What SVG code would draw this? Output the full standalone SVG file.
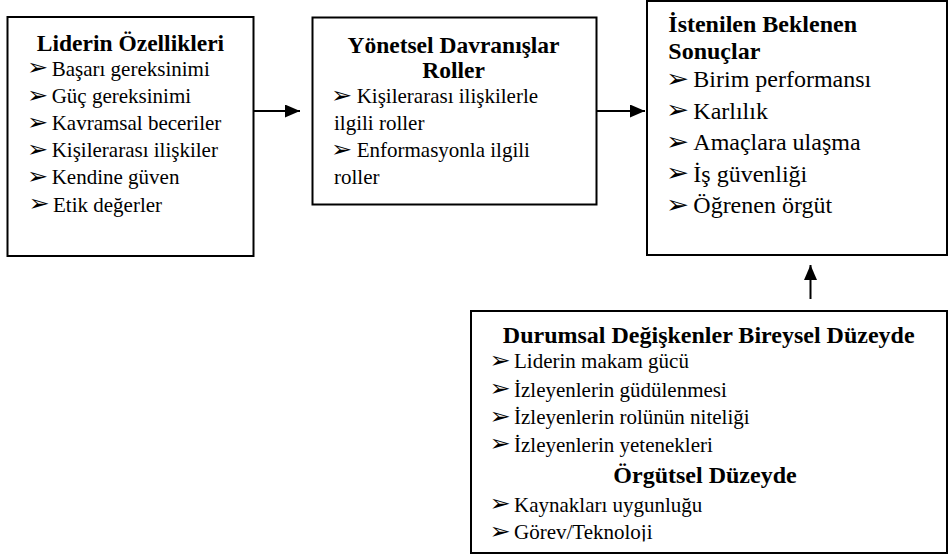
<svg xmlns="http://www.w3.org/2000/svg" width="951" height="558" viewBox="0 0 951 558">
<style>
.box{fill:#fff;stroke:#000;stroke-width:2}
.t{fill:#000}
.h{font-weight:bold}
.s21{font-size:21px}
.s24{font-size:24px}
.b{fill:#000;font-family:"DejaVu Sans",sans-serif;font-size:23px}
.b24{font-size:25px}
.conn{stroke:#000;stroke-width:2;fill:none}
</style>
<defs>
<marker id="ah" viewBox="0 0 15 13" refX="15" refY="6.5" markerWidth="15" markerHeight="13" markerUnits="userSpaceOnUse" orient="auto">
<path d="M0,0 L15,6.5 L0,13 z" fill="#000"/>
</marker>
<clipPath id="clip4"><rect x="460" y="300" width="491" height="241.5"/></clipPath>
</defs>
<rect width="951" height="558" fill="#fff"/>
<g font-family="'Liberation Serif', 'Times New Roman', serif">
<g id="node-lider">
<rect class="box" x="7.5" y="17" width="246" height="239"/>
<text class="t h" x="130.5" y="50.5" font-size="23.5" text-anchor="middle">Liderin Özellikleri</text>
<text class="b" transform="translate(27,75) scale(1.1,1)">➢</text>
<text class="b" transform="translate(27,102.5) scale(1.1,1)">➢</text>
<text class="b" transform="translate(27,129.5) scale(1.1,1)">➢</text>
<text class="b" transform="translate(27,156.5) scale(1.1,1)">➢</text>
<text class="b" transform="translate(27,183.5) scale(1.1,1)">➢</text>
<text class="b" transform="translate(28.5,211) scale(1.1,1)">➢</text>
<g class="t s21">
<text x="51.7" y="75.5">Başarı gereksinimi</text>
<text x="51.7" y="103">Güç gereksinimi</text>
<text x="51.7" y="130">Kavramsal beceriler</text>
<text x="51.7" y="157">Kişilerarası ilişkiler</text>
<text x="51.7" y="184">Kendine güven</text>
<text x="53" y="211.5">Etik değerler</text>
</g>
</g>
<g id="node-yonetsel">
<rect class="box" x="312.5" y="17.5" width="284" height="187"/>
<text class="t h" x="453.5" y="53.3" font-size="23.5" text-anchor="middle">Yönetsel Davranışlar</text>
<text class="t h" x="453.5" y="78.3" font-size="23.5" text-anchor="middle">Roller</text>
<text class="b" transform="translate(331,102.8) scale(1.1,1)">➢</text>
<text class="b" transform="translate(331,156.8) scale(1.1,1)">➢</text>
<g class="t s21">
<text x="356.7" y="103.3">Kişilerarası ilişkilerle</text>
<text x="334" y="130">ilgili roller</text>
<text x="356.7" y="157.3">Enformasyonla ilgili</text>
<text x="334" y="184">roller</text>
</g>
</g>
<g id="node-sonuclar">
<rect class="box" x="647" y="1" width="300" height="254"/>
<text class="t h s24" x="668.3" y="31.7">İstenilen Beklenen</text>
<text class="t h s24" x="668.3" y="59.3">Sonuçlar</text>
<text class="b b24" transform="translate(666,86.8) scale(1.1,1)">➢</text>
<text class="b b24" transform="translate(666,118.3) scale(1.1,1)">➢</text>
<text class="b b24" transform="translate(666,149.8) scale(1.1,1)">➢</text>
<text class="b b24" transform="translate(666,181.3) scale(1.1,1)">➢</text>
<text class="b b24" transform="translate(666,212.8) scale(1.1,1)">➢</text>
<g class="t s24">
<text x="693.3" y="87.3">Birim performansı</text>
<text x="693.3" y="118.8">Karlılık</text>
<text x="693.3" y="150.3">Amaçlara ulaşma</text>
<text x="693.3" y="181.8">İş güvenliği</text>
<text x="693.3" y="213.3">Öğrenen örgüt</text>
</g>
</g>
<g id="node-durumsal">
<rect class="box" x="471" y="311" width="476" height="242"/>
<g clip-path="url(#clip4)">
<text class="t h s24" x="708.7" y="342.7" text-anchor="middle">Durumsal Değişkenler Bireysel Düzeyde</text>
<text class="b" transform="translate(489.5,367.8) scale(1.1,1)">➢</text>
<text class="b" transform="translate(489.5,396.2) scale(1.1,1)">➢</text>
<text class="b" transform="translate(489.5,423.5) scale(1.1,1)">➢</text>
<text class="b" transform="translate(489.5,451.2) scale(1.1,1)">➢</text>
<text class="b" transform="translate(489.5,511.2) scale(1.1,1)">➢</text>
<text class="b" transform="translate(489.5,538.8) scale(1.1,1)">➢</text>
<g class="t s21">
<text x="514" y="368.3">Liderin makam gücü</text>
<text x="514" y="396.7">İzleyenlerin güdülenmesi</text>
<text x="514" y="424">İzleyenlerin rolünün niteliği</text>
<text x="514" y="451.7">İzleyenlerin yetenekleri</text>
</g>
<text class="t h s24" x="705" y="483.3" text-anchor="middle">Örgütsel Düzeyde</text>
<g class="t s21">
<text x="514" y="511.7">Kaynakları uygunluğu</text>
<text x="514" y="539.3">Görev/Teknoloji</text>
</g>
</g>
</g>
</g>
<g id="connectors">
<line class="conn" x1="253" y1="111" x2="300" y2="111" marker-end="url(#ah)"/>
<line class="conn" x1="597" y1="111" x2="645" y2="111" marker-end="url(#ah)"/>
<line class="conn" x1="810.5" y1="299" x2="810.5" y2="265" marker-end="url(#ah)"/>
</g>
</svg>
